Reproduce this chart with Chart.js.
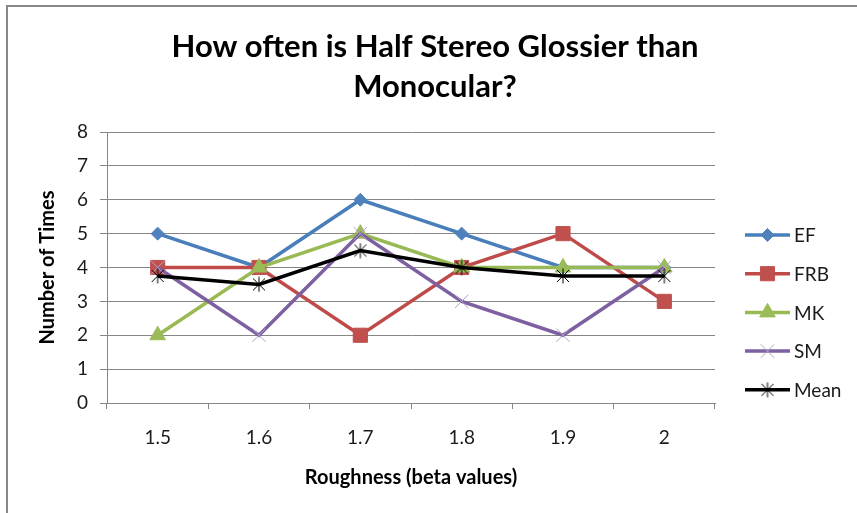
<!DOCTYPE html>
<html>
<head>
<meta charset="utf-8">
<script src="https://cdn.jsdelivr.net/npm/chart.js@4.4.0/dist/chart.umd.min.js"></script>
<style>
  html, body { margin: 0; padding: 0; background: #fff; }
  #wrap { position: relative; width: 857px; height: 513px; overflow: hidden; }
  #frame { position: absolute; left: 6px; top: 5px; right: -10px; bottom: -10px;
           border-top: 2px solid #878787; border-left: 2px solid #878787; }
  #growthChart { position: absolute; left: 0; top: 0; }
</style>
</head>
<body>
<div id="wrap">
  <div id="frame"></div>
  <canvas id="growthChart" width="857" height="513"></canvas>
</div>
<script>
// data
const categories = ['1.5', '1.6', '1.7', '1.8', '1.9', '2'];
const seriesNames = ['EF', 'FRB', 'MK', 'SM', 'Mean'];
const efValues = [5, 4, 6, 5, 4, 4];
const frbValues = [4, 4, 2, 4, 5, 3];
const mkValues = [2, 4, 5, 4, 4, 4];
const smValues = [4, 2, 5, 3, 2, 4];
const meanValues = [3.75, 3.5, 4.5, 4, 3.75, 3.75];
const yMin = 0, yMax = 8, yStep = 1;

const FONT = 'Lato, "Open Sans", sans-serif';

// asterisk marker like the Excel "star" (X plus vertical bar)
const starMarker = (() => {
    const c = document.createElement('canvas');
    c.width = 16; c.height = 16;
    const g = c.getContext('2d');
    g.strokeStyle = '#000';
    g.lineWidth = 1;
    g.beginPath();
    g.moveTo(2, 2); g.lineTo(14, 14);
    g.moveTo(14, 2); g.lineTo(2, 14);
    g.moveTo(8, 0.5); g.lineTo(8, 15.5);
    g.stroke();
    return c;
})();

const makeSet = (label, data, line, fill, style, radius, extra) => Object.assign({
    label: label,
    data: data,
    borderColor: line,
    backgroundColor: fill,
    pointBackgroundColor: fill,
    pointBorderColor: fill,
    pointStyle: style,
    pointRadius: radius,
    pointHoverRadius: radius,
    pointBorderWidth: 1,
    borderWidth: 3.5,
    tension: 0,
    fill: false
}, extra || {});

const datasets = [
    makeSet(seriesNames[0], efValues, '#4A7EBB', '#4F81BD', 'rectRot', 6.5, { order: 5 }),
    makeSet(seriesNames[1], frbValues, '#BE4B48', '#C0504D', 'rect', 10, { order: 4 }),
    makeSet(seriesNames[2], mkValues, '#98B954', '#9BBB59', 'triangle', 9, { order: 3 }),
    makeSet(seriesNames[3], smValues, '#7D60A0', 'rgba(0,0,0,0)', 'crossRot', 9.5,
        { order: 2, pointBorderColor: '#B3A2C7', pointBorderWidth: 1 }),
    makeSet(seriesNames[4], meanValues, '#000000', '#000000', starMarker, 8, { order: 1 })
];

// legend drawn as line + marker, like the original
const sideLegend = {
    id: 'sideLegend',
    afterDraw(chart) {
        const ctx = chart.ctx;
        const area = chart.chartArea;
        const x0 = area.right + 30, x1 = area.right + 75;
        ctx.save();
        chart.data.datasets.forEach((ds, i) => {
            const y = 235 + i * 38.7;
            ctx.strokeStyle = ds.borderColor;
            ctx.lineWidth = ds.borderWidth;
            ctx.beginPath();
            ctx.moveTo(x0, y);
            ctx.lineTo(x1, y);
            ctx.stroke();
            ctx.fillStyle = ds.pointBackgroundColor;
            ctx.strokeStyle = ds.pointBorderColor;
            ctx.lineWidth = ds.pointBorderWidth;
            Chart.helpers.drawPoint(ctx, {
                pointStyle: ds.pointStyle,
                radius: ds.pointRadius,
                rotation: 0,
                borderWidth: ds.pointBorderWidth
            }, (x0 + x1) / 2, y);
            ctx.fillStyle = '#1a1a1a';
            ctx.font = '19px ' + FONT;
            ctx.textAlign = 'left';
            ctx.textBaseline = 'middle';
            ctx.fillText(ds.label, x1 + 4, y + 1);
        });
        ctx.restore();
    }
};

const canvas = document.getElementById('growthChart');
window.growthChart = new Chart(canvas.getContext('2d'), {
    type: 'line',
    data: { labels: categories, datasets: datasets },
    options: {
        responsive: false,
        animation: false,
        layout: { padding: { left: 13, right: 0, top: 0, bottom: 0 } },
        plugins: {
            legend: { display: false },
            tooltip: { enabled: false },
            title: {
                display: true,
                text: ['How often is Half Stereo Glossier than', 'Monocular?'],
                color: '#000',
                font: { family: FONT, size: 31, weight: 'bold', lineHeight: '40px' },
                padding: { top: 27, bottom: 25 }
            }
        },
        scales: {
            x: {
                offset: true,
                grid: {
                    offset: true,
                    drawOnChartArea: false,
                    drawTicks: true,
                    tickLength: 6,
                    color: '#868686'
                },
                border: { color: '#868686', width: 1 },
                ticks: {
                    color: '#1a1a1a',
                    font: { family: FONT, size: 19 },
                    padding: 17,
                    maxRotation: 0
                },
                title: {
                    display: true,
                    text: 'Roughness (beta values)',
                    color: '#000',
                    font: { family: FONT, size: 20, weight: 'bold' },
                    padding: { top: 0, bottom: 23 }
                },
                afterFit(scale) { scale.height = 110; }
            },
            y: {
                min: yMin,
                max: yMax,
                grid: {
                    color: '#868686',
                    drawTicks: true,
                    tickLength: 7
                },
                border: { color: '#868686', width: 1 },
                ticks: {
                    stepSize: yStep,
                    color: '#1a1a1a',
                    font: { family: FONT, size: 19 },
                    padding: 12
                },
                title: {
                    display: true,
                    text: 'Number of Times',
                    color: '#000',
                    font: { family: FONT, size: 20, weight: 'bold' },
                    padding: { top: 23, bottom: 0 }
                },
                afterFit(scale) { scale.width = 94; }
            },
            // empty right-hand scale that only keeps room for the legend
            legendSpace: {
                type: 'linear',
                position: 'right',
                display: true,
                grid: { display: false, drawOnChartArea: false },
                border: { display: false },
                ticks: { display: false },
                afterFit(scale) { scale.width = 142; }
            }
        }
    },
    plugins: [sideLegend]
});
</script>
</body>
</html>
